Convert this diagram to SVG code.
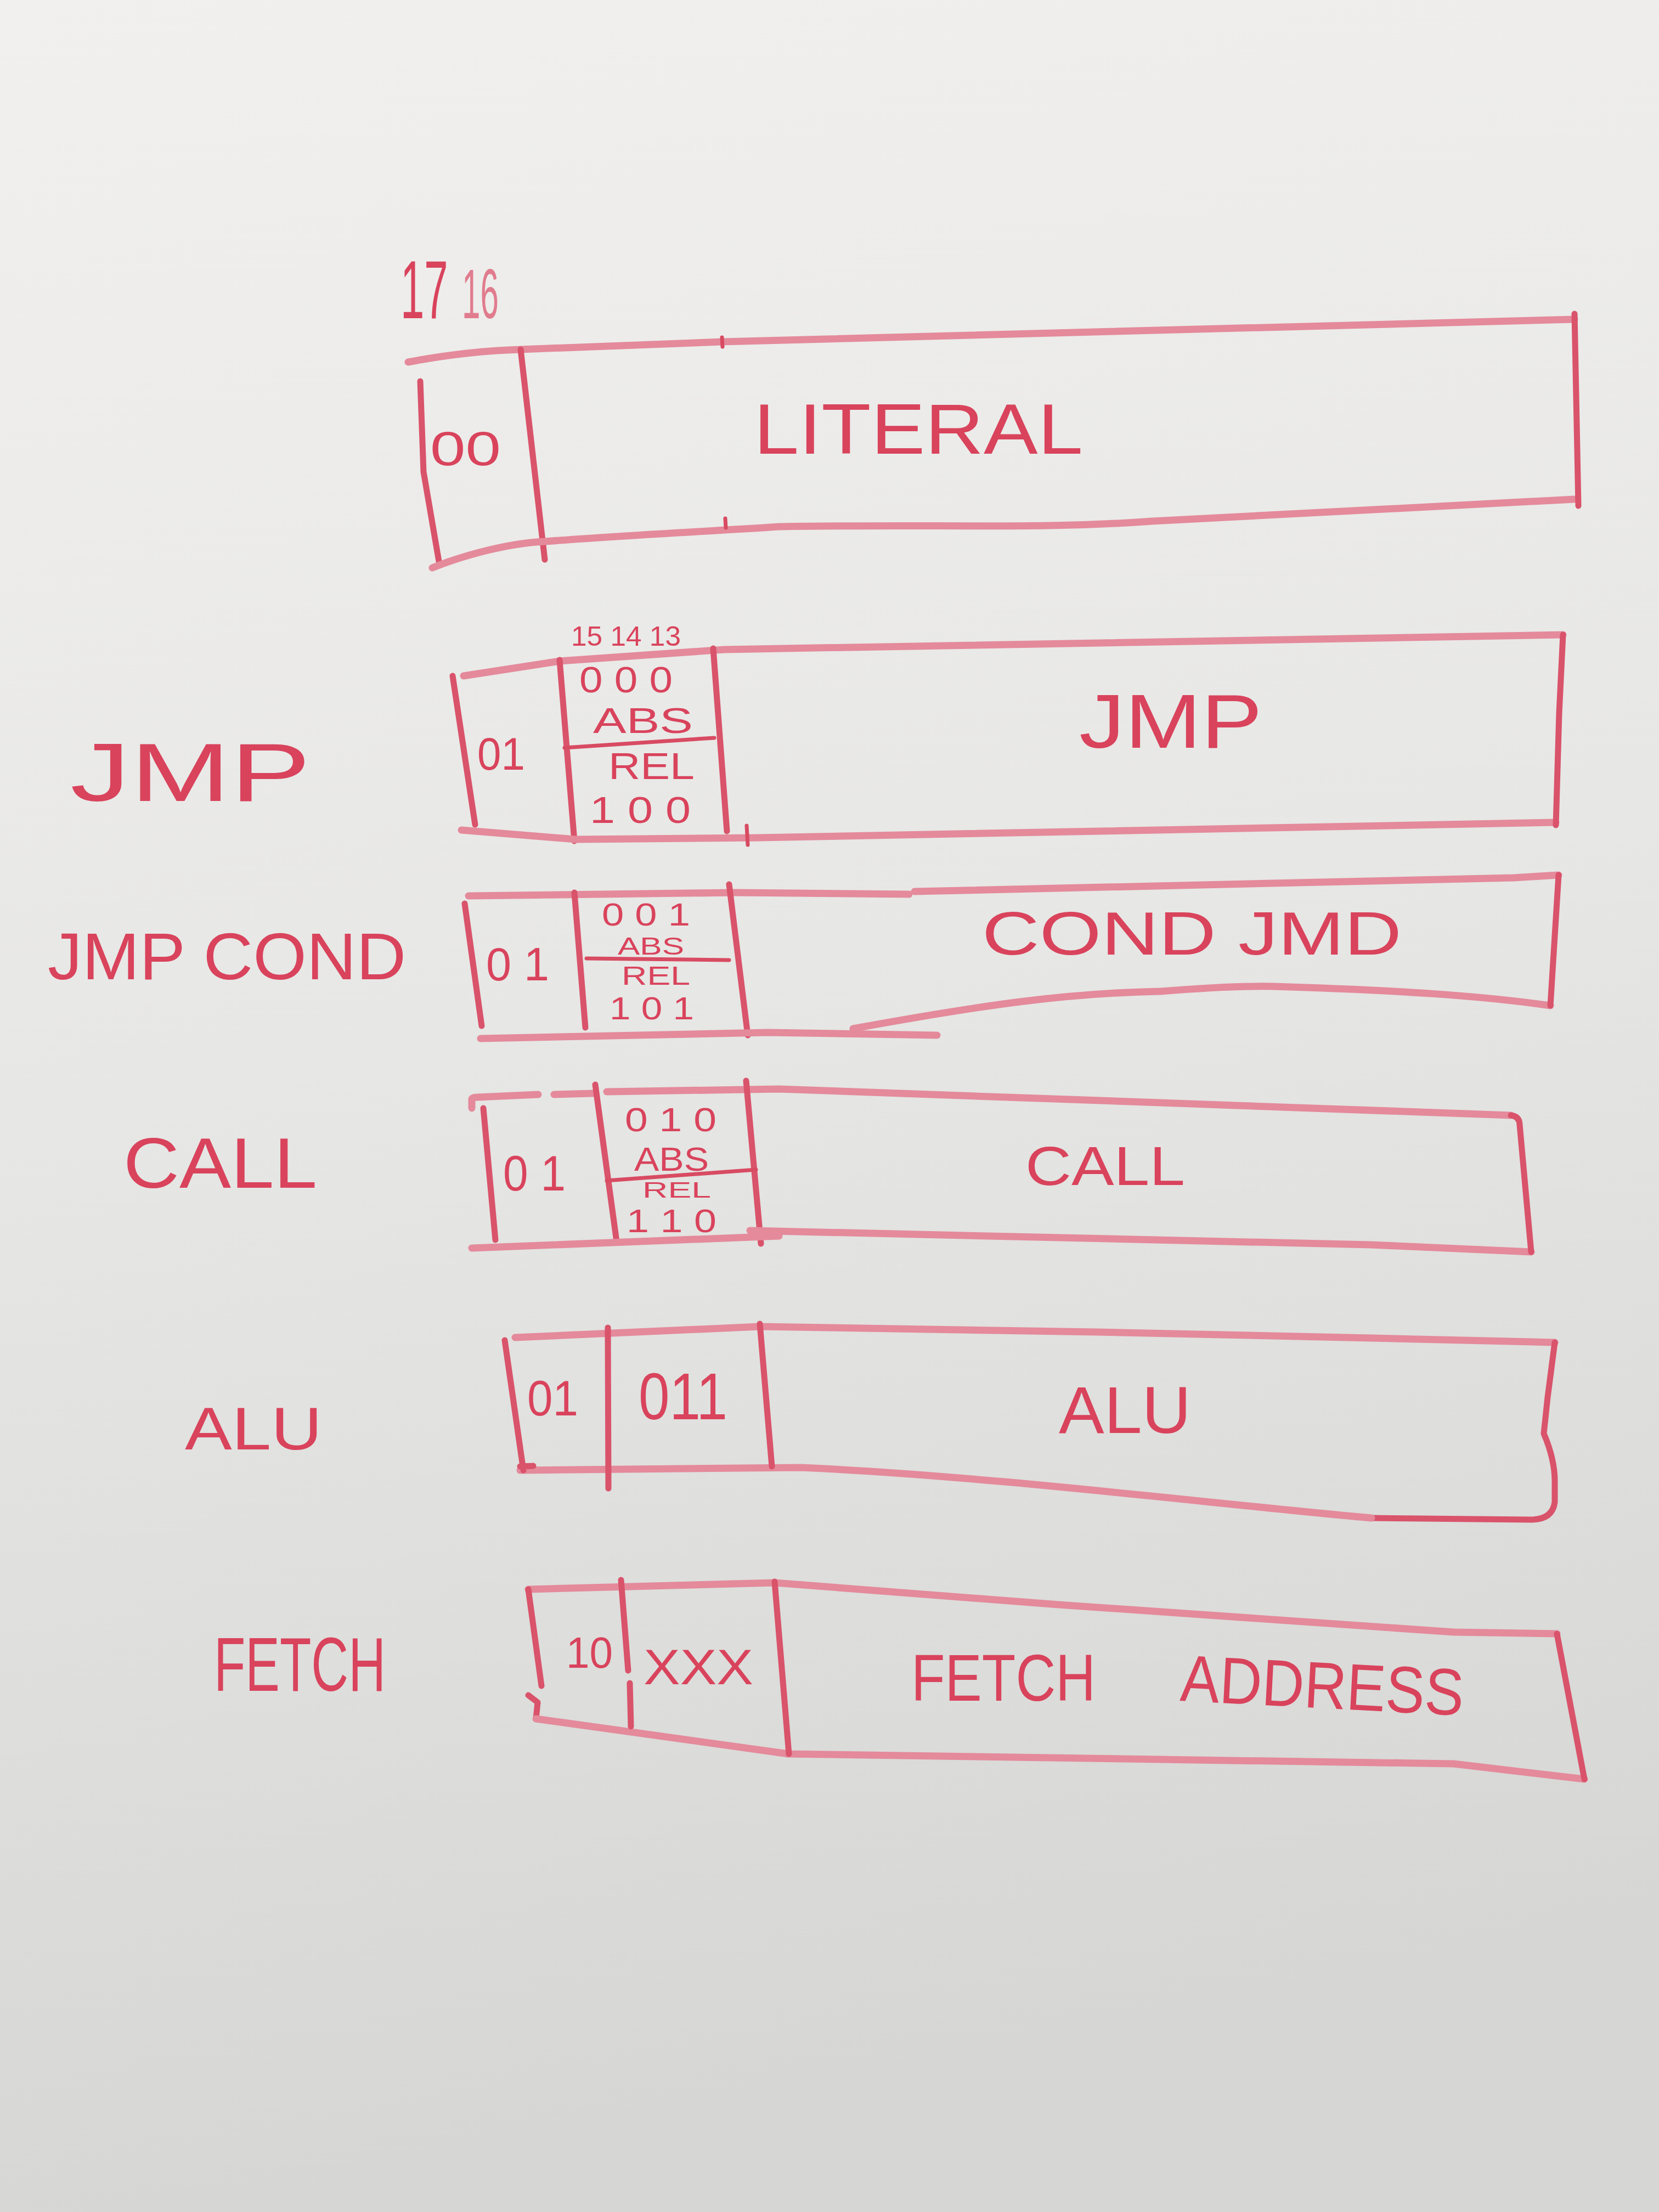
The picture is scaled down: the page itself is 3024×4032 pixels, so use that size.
<svg xmlns="http://www.w3.org/2000/svg" width="3024" height="4032" viewBox="0 0 3024 4032">
<defs>
<linearGradient id="bg" x1="0" y1="0" x2="0.15" y2="1">
<stop offset="0" stop-color="#f1f0ee"/>
<stop offset="0.5" stop-color="#e7e7e5"/>
<stop offset="1" stop-color="#d6d6d4"/>
</linearGradient>
<style>
.ln{fill:none;stroke:#e48a9b;stroke-width:13;stroke-linecap:round;stroke-linejoin:round}
.dk{fill:none;stroke:#d9536b;stroke-width:11;stroke-linecap:round;stroke-linejoin:round}
.th{fill:none;stroke:#d84b62;stroke-width:7;stroke-linecap:round}
text{font-family:"Liberation Sans","DejaVu Sans",sans-serif;fill:#d9435c}
.lt{fill:#e07c8e}
</style>
</defs>
<rect width="3024" height="4032" fill="url(#bg)"/>

<g id="bit-labels">
<text transform="translate(730,580) scale(0.52,1)" x="0" y="0" font-size="150">17</text>
<text class="lt" transform="translate(842,580) scale(0.47,1)" x="0" y="0" font-size="128">16</text>
</g>

<g id="row-literal">
<path class="ln" d="M744,660 Q850,640 949,637 L1316,623 L2870,582"/>
<path class="dk" d="M766,695 L772,860 L800,1023"/>
<path class="dk" d="M949,637 L993,1020"/>
<path class="ln" d="M788,1035 C850,1010 930,990 993,987 C1150,975 1300,968 1420,960 C1700,955 1900,965 2100,950 L2870,910"/>
<path class="dk" d="M2870,572 L2877,922"/>
<path class="th" d="M1316,615 L1317,632 M1322,945 L1323,962"/>
<text x="784" y="848" font-size="88" textLength="129" lengthAdjust="spacingAndGlyphs">00</text>
<text x="1374" y="827" font-size="130" textLength="600" lengthAdjust="spacingAndGlyphs">LITERAL</text>
</g>

<g id="row-jmp">
<path class="ln" d="M845,1232 L1020,1205 L1320,1184 L2849,1157"/>
<path class="dk" d="M825,1232 L866,1503"/>
<path class="dk" d="M1020,1203 L1047,1533"/>
<path class="dk" d="M1300,1182 L1325,1515"/>
<path class="ln" d="M841,1513 L1049,1530 L1380,1527 L2836,1499"/>
<path class="th" d="M1029,1363 L1302,1345"/>
<path class="dk" d="M2849,1157 L2842,1300 L2836,1504"/>
<path class="th" d="M1361,1505 L1363,1540"/>
<text x="1041" y="1177" font-size="50" textLength="200" lengthAdjust="spacingAndGlyphs">15 14 13</text>
<text x="1056" y="1262" font-size="66" textLength="170" lengthAdjust="spacingAndGlyphs">0 0 0</text>
<text x="1081" y="1336" font-size="64" textLength="182" lengthAdjust="spacingAndGlyphs">ABS</text>
<text x="1109" y="1420" font-size="68" textLength="157" lengthAdjust="spacingAndGlyphs">REL</text>
<text x="1075" y="1500" font-size="68" textLength="184" lengthAdjust="spacingAndGlyphs">1 0 0</text>
<text x="870" y="1403" font-size="84" textLength="87" lengthAdjust="spacingAndGlyphs">01</text>
<text x="1967" y="1363" font-size="140" textLength="334" lengthAdjust="spacingAndGlyphs">JMP</text>
<text x="128" y="1460" font-size="150" textLength="438" lengthAdjust="spacingAndGlyphs">JMP</text>
</g>

<g id="row-jmp-cond">
<path class="ln" d="M854,1633 L1341,1627 L1657,1630 M1667,1625 L2759,1600 L2841,1595"/>
<path class="dk" d="M847,1647 L878,1870"/>
<path class="dk" d="M1047,1627 L1067,1873"/>
<path class="dk" d="M1329,1612 L1363,1887"/>
<path class="ln" d="M876,1893 L1400,1882 L1708,1887"/>
<path class="ln" d="M1555,1875 C1800,1830 1950,1810 2116,1807 C2200,1800 2260,1797 2320,1798 C2550,1805 2700,1815 2826,1833"/>
<path class="dk" d="M2841,1595 L2826,1833"/>
<path class="th" d="M1069,1747 L1329,1750"/>
<text x="1097" y="1687" font-size="58" textLength="161" lengthAdjust="spacingAndGlyphs">0 0 1</text>
<text x="1126" y="1740" font-size="44" textLength="121" lengthAdjust="spacingAndGlyphs">ABS</text>
<text x="1133" y="1795" font-size="48" textLength="125" lengthAdjust="spacingAndGlyphs">REL</text>
<text x="1111" y="1858" font-size="58" textLength="154" lengthAdjust="spacingAndGlyphs">1 0 1</text>
<text x="886" y="1787" font-size="85" textLength="115" lengthAdjust="spacingAndGlyphs">0 1</text>
<text x="1790" y="1740" font-size="112" textLength="765" lengthAdjust="spacingAndGlyphs">COND JMD</text>
<text x="87" y="1785" font-size="120" textLength="653" lengthAdjust="spacingAndGlyphs">JMP COND</text>
</g>

<g id="row-call">
<path class="ln" d="M860,2020 L860,2003 Q862,2000 870,2000 L981,1995 M1010,1995 L1081,1993 M1106,1990 L1420,1985 L2754,2033"/>
<path class="dk" d="M881,2020 L903,2260"/>
<path class="dk" d="M1085,1977 L1124,2263"/>
<path class="dk" d="M1360,1970 L1387,2267"/>
<path class="th" d="M1106,2152 L1378,2132"/>
<path class="ln" d="M860,2275 L1420,2253"/>
<path class="ln" d="M1367,2243 L2500,2269 L2791,2282"/>
<path class="dk" d="M2754,2033 Q2770,2035 2770,2050 L2791,2282"/>
<text x="1139" y="2062" font-size="62" textLength="167" lengthAdjust="spacingAndGlyphs">0 1 0</text>
<text x="1156" y="2134" font-size="62" textLength="136" lengthAdjust="spacingAndGlyphs">ABS</text>
<text x="1171" y="2183" font-size="40" textLength="125" lengthAdjust="spacingAndGlyphs">REL</text>
<text x="1142" y="2246" font-size="60" textLength="164" lengthAdjust="spacingAndGlyphs">1 1 0</text>
<text x="917" y="2170" font-size="90" textLength="114" lengthAdjust="spacingAndGlyphs">0 1</text>
<text x="1869" y="2160" font-size="100" textLength="291" lengthAdjust="spacingAndGlyphs">CALL</text>
<text x="225" y="2165" font-size="130" textLength="353" lengthAdjust="spacingAndGlyphs">CALL</text>
</g>

<g id="row-alu">
<path class="ln" d="M939,2438 L1385,2418 L2000,2428 L2500,2439 L2834,2447"/>
<path class="dk" d="M2834,2447 L2821,2547 L2814,2613 Q2834,2660 2834,2700 L2834,2738 Q2830,2770 2790,2770 L2500,2767"/>
<path class="ln" d="M948,2680 L1460,2675 C1800,2690 2200,2740 2500,2767"/>
<path class="dk" d="M920,2443 L954,2680 M948,2673 L972,2672"/>
<path class="dk" d="M1108,2420 L1109,2713"/>
<path class="dk" d="M1385,2413 L1407,2673"/>
<text x="961" y="2580" font-size="90" textLength="93" lengthAdjust="spacingAndGlyphs">01</text>
<text x="1164" y="2587" font-size="120" textLength="162" lengthAdjust="spacingAndGlyphs">011</text>
<text x="1930" y="2612" font-size="120" textLength="241" lengthAdjust="spacingAndGlyphs">ALU</text>
<text x="337" y="2642" font-size="110" textLength="250" lengthAdjust="spacingAndGlyphs">ALU</text>
</g>

<g id="row-fetch">
<path class="ln" d="M963,2897 L1412,2885 L1930,2925 L2650,2975 L2838,2978"/>
<path class="dk" d="M963,2897 L987,3073"/>
<path class="dk" d="M963,3090 L980,3103 L977,3133"/>
<path class="ln" d="M977,3133 L1437,3197 L2650,3215 L2888,3243"/>
<path class="dk" d="M2838,2978 L2888,3243"/>
<path class="dk" d="M1132,2880 L1145,3045 M1148,3068 L1150,3147"/>
<path class="dk" d="M1412,2883 L1438,3197"/>
<text x="1032" y="3040" font-size="80" textLength="85" lengthAdjust="spacingAndGlyphs">10</text>
<text x="1173" y="3070" font-size="90" textLength="200" lengthAdjust="spacingAndGlyphs">XXX</text>
<text x="1661" y="3100" font-size="120" textLength="336" lengthAdjust="spacingAndGlyphs">FETCH</text>
<text x="2150" y="3100" font-size="120" textLength="517" lengthAdjust="spacingAndGlyphs" transform="rotate(3 2150 3100)">ADDRESS</text>
<text x="390" y="3082" font-size="140" textLength="313" lengthAdjust="spacingAndGlyphs">FETCH</text>
</g>

<g id="connectors"/>
</svg>
